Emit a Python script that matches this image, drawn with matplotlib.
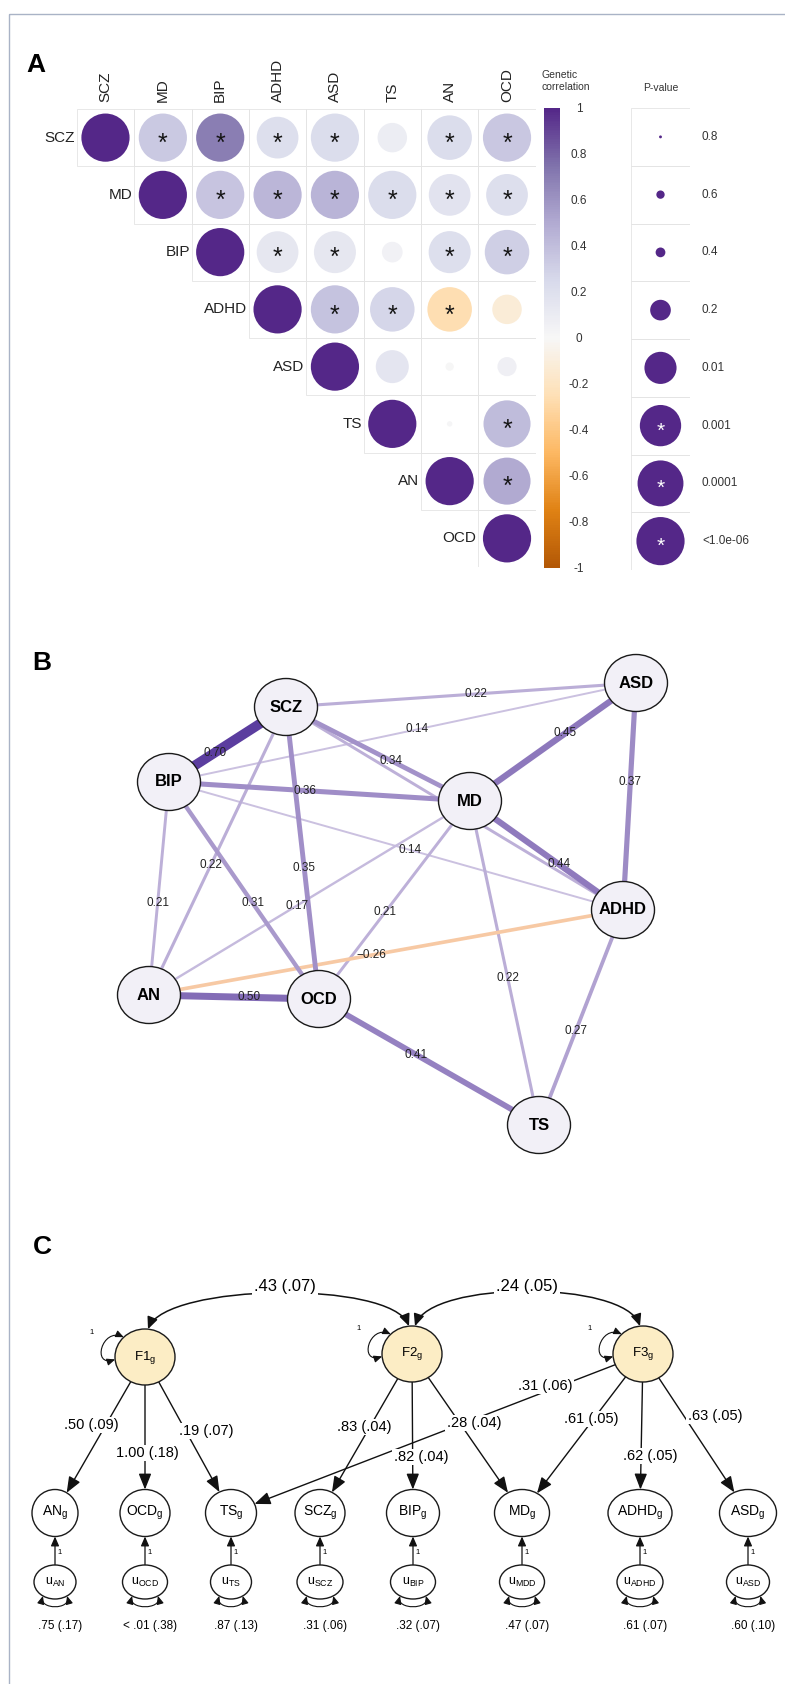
import numpy as np
import matplotlib
matplotlib.use("Agg")
import matplotlib.pyplot as plt
from matplotlib.patches import Ellipse, Rectangle, FancyArrowPatch, ArrowStyle
from matplotlib.path import Path
from matplotlib.colors import LinearSegmentedColormap, Normalize, to_rgb
from matplotlib.colorbar import ColorbarBase

plt.rcParams["font.family"] = ["Liberation Sans", "DejaVu Sans"]
plt.rcParams["mathtext.fontset"] = "custom"
plt.rcParams["mathtext.rm"] = "Liberation Sans"
plt.rcParams["mathtext.it"] = "Liberation Sans:italic"
plt.rcParams["mathtext.bf"] = "Liberation Sans:bold"

# ---------------------------------------------------------------- data
traits = ["SCZ", "MD", "BIP", "ADHD", "ASD", "TS", "AN", "OCD"]

# genetic correlations, upper triangle (each row starts at the diagonal)
rg_SCZ = [1.00, 0.34, 0.70, 0.21, 0.22, 0.09, 0.22, 0.35]
rg_MD = [1.00, 0.36, 0.44, 0.45, 0.22, 0.17, 0.21]
rg_BIP = [1.00, 0.14, 0.14, 0.05, 0.21, 0.31]
rg_ADHD = [1.00, 0.37, 0.27, -0.26, -0.12]
rg_ASD = [1.00, 0.15, 0.01, 0.07]
rg_TS = [1.00, 0.02, 0.41]
rg_AN = [1.00, 0.50]
rg_OCD = [1.00]

# p-values for the same cells
p_SCZ = [0.0, 1e-8, 1e-8, 8e-4, 1e-7, 0.02, 2e-4, 1e-8]
p_MD = [0.0, 1e-8, 1e-8, 1e-8, 1e-7, 8e-4, 8e-4]
p_BIP = [0.0, 8e-4, 7e-4, 0.2, 7e-4, 2e-4]
p_ADHD = [0.0, 1e-7, 2e-4, 2e-4, 0.02]
p_ASD = [0.0, 0.008, 0.6, 0.22]
p_TS = [0.0, 0.7, 1e-5]
p_AN = [0.0, 1e-5]
p_OCD = [0.0]

p_legend = [0.8, 0.6, 0.4, 0.2, 0.01, 0.001, 0.0001, 1e-6]
p_legend_labels = ["0.8", "0.6", "0.4", "0.2", "0.01", "0.001", "0.0001", "<1.0e-06"]
cbar_ticks = [1.0, 0.8, 0.6, 0.4, 0.2, 0.0, -0.2, -0.4, -0.6, -0.8, -1.0]
SIG_LEVEL = 0.001

# genomic SEM (panel C)
factors = ["F1", "F2", "F3"]
indicators = ["AN", "OCD", "TS", "SCZ", "BIP", "MD", "ADHD", "ASD"]
residual_names = ["AN", "OCD", "TS", "SCZ", "BIP", "MDD", "ADHD", "ASD"]
load_from = ["F1", "F1", "F1", "F2", "F2", "F2", "F3", "F3", "F3", "F3"]
load_to = ["AN", "OCD", "TS", "SCZ", "BIP", "MD", "MD", "ADHD", "ASD", "TS"]
load_est = [0.50, 1.00, 0.19, 0.83, 0.82, 0.28, 0.61, 0.62, 0.63, 0.31]
load_se = [0.09, 0.18, 0.07, 0.04, 0.04, 0.04, 0.05, 0.05, 0.05, 0.06]
cov_pairs = [("F1", "F2"), ("F2", "F3")]
cov_est = [0.43, 0.24]
cov_se = [0.07, 0.05]
resid_est = [0.75, 0.004, 0.87, 0.31, 0.32, 0.47, 0.61, 0.60]
resid_se = [0.17, 0.38, 0.13, 0.06, 0.07, 0.07, 0.07, 0.10]

# ---------------------------------------------------------------- layout (pixels)
W, H = 785, 1684
GRID = (76.8, 109.0, 535.7, 567.0)      # left, top, right, bottom
CBAR = (543.8, 108.0, 560.3, 568.0)
PLEG = (631.0, 108.0, 690.0, 570.0)
size_frac = [0.05, 0.145, 0.17, 0.36, 0.56, 0.72, 0.80, 0.84]

net_pos = {"SCZ": (286, 707), "MD": (470, 801), "BIP": (169, 782),
           "ADHD": (623, 910), "ASD": (636, 683), "TS": (539, 1125),
           "AN": (149, 995), "OCD": (319, 999)}
NODE_W, NODE_H = 63, 57
LABEL_SHIFT = 15          # edge labels sit this far past the midpoint

fac_pos = {"F1": (145, 1357), "F2": (412, 1354), "F3": (643, 1354)}
FAC_W, FAC_H = 60, 56
ind_x = [55, 145, 231, 320, 413, 522, 640, 748]
IND_Y, IND_H = 1513, 47
ind_w = [46, 50, 51, 50, 53, 55, 64, 57]
U_Y, U_H = 1582, 34
u_w = [42, 45, 41, 46, 45, 45, 46, 43]
load_label_xy = [(91, 1425), (147, 1453), (206, 1431), (364, 1427), (421, 1457),
                 (474, 1423), (591, 1419), (650, 1456), (715, 1416), (545, 1386)]
cov_label_xy = [(285, 1286), (527, 1286)]
RESID_Y = 1626

# ---------------------------------------------------------------- helpers
fig = plt.figure(figsize=(W / 100, H / 100), dpi=100, facecolor="white")
ax = fig.add_axes([0, 0, 1, 1])
ax.set_xlim(0, W)
ax.set_ylim(H, 0)
ax.axis("off")


def px_axes(l, t, r, b):
    return fig.add_axes([l / W, 1 - b / H, (r - l) / W, (b - t) / H])


cmap = LinearSegmentedColormap.from_list(
    "PuOr9", ["#B35806", "#E08214", "#FDB863", "#FEE0B6", "#F7F7F7",
              "#D8DAEB", "#B2ABD2", "#8073AC", "#542788"])
norm = Normalize(-1, 1)


def diam_frac(p):
    lp = -np.log10(max(p, 1e-12))
    return np.interp(lp, -np.log10(p_legend), size_frac)


def fmt(v):
    if v < 0.005:
        return "< .01"
    s = f"{v:.2f}"
    return s[1:] if s.startswith("0") else s


def star(axis, x, y, color, size=18):
    axis.annotate("*", (x, y), xytext=(0, -0.52 * size), textcoords="offset points",
                  ha="center", va="baseline", fontsize=size, color=color,
                  annotation_clip=False)


# outer frame
ax.add_patch(Rectangle((9, 14), W, H, fill=False, ec="#A9B3C6", lw=1.0))

# ---------------------------------------------------------------- panel A
n = len(traits)
R = np.full((n, n), np.nan)
P = np.full((n, n), np.nan)
for i, (rr, pp) in enumerate(zip([rg_SCZ, rg_MD, rg_BIP, rg_ADHD, rg_ASD, rg_TS, rg_AN, rg_OCD],
                                 [p_SCZ, p_MD, p_BIP, p_ADHD, p_ASD, p_TS, p_AN, p_OCD])):
    R[i, i:] = rr
    P[i, i:] = pp

axA = px_axes(*GRID)
axA.set_xlim(-0.5, n - 0.5)
axA.set_ylim(n - 0.5, -0.5)
axA.axis("off")
ux = (GRID[2] - GRID[0]) / n
uy = (GRID[3] - GRID[1]) / n
for i in range(n):
    for j in range(i, n):
        axA.add_patch(Rectangle((j - 0.5, i - 0.5), 1, 1, fill=False, ec="#E4E4E4", lw=0.6))
        d = diam_frac(P[i, j]) * ux
        axA.add_patch(Ellipse((j, i), d / ux, d / uy, fc=cmap(norm(R[i, j])), ec="none"))
        if i != j and P[i, j] <= SIG_LEVEL:
            star(axA, j, i, "#151515")
for i, t in enumerate(traits):
    axA.text(i - 0.53, i, t, ha="right", va="center", fontsize=11, color="#222222")
    axA.text(i, -0.62, t, ha="center", va="bottom", rotation=90, fontsize=11, color="#222222")

cax = px_axes(*CBAR)
cb = ColorbarBase(cax, cmap=cmap, norm=norm, orientation="vertical", ticks=cbar_ticks)
cb.outline.set_visible(False)
cb.set_ticklabels([("%g" % round(v, 1)) for v in cbar_ticks])
cax.tick_params(length=0, pad=13.5, labelsize=8.5, colors="#333333")
for lab in cax.get_yticklabels():
    lab.set_ha("center")

axP = px_axes(*PLEG)
axP.set_xlim(-0.5, 0.5)
axP.set_ylim(len(p_legend) - 0.5, -0.5)
axP.axis("off")
pux = PLEG[2] - PLEG[0]
puy = (PLEG[3] - PLEG[1]) / len(p_legend)
for k, (p, lab) in enumerate(zip(p_legend, p_legend_labels)):
    axP.add_patch(Rectangle((-0.5, k - 0.5), 1, 1, fill=False, ec="#E4E4E4", lw=0.6))
    d = diam_frac(p) * ux
    axP.add_patch(Ellipse((0, k), d / pux, d / puy, fc=cmap(norm(1.0)), ec="none"))
    if p <= SIG_LEVEL:
        star(axP, 0, k, "white", size=15)
    axP.text(0.5 + 12 / pux, k, lab, ha="left", va="center", fontsize=8.5, color="#333333")

ax.text(542, 81, "Genetic\ncorrelation", ha="left", va="center", fontsize=7.5,
        color="#333333", linespacing=1.2)
ax.text((PLEG[0] + PLEG[2]) / 2, 88, "P-value", ha="center", va="center", fontsize=7.5,
        color="#333333")
ax.text(36, 65, "A", ha="center", va="center", fontsize=19, fontweight="bold")

# ---------------------------------------------------------------- panel B
ax.text(42, 663, "B", ha="center", va="center", fontsize=19, fontweight="bold")
purple = np.array(to_rgb("#5B3D9F"))
orange = np.array(to_rgb("#EE8A3C"))
edges = [(i, j) for i in range(n) for j in range(i + 1, n) if P[i, j] <= SIG_LEVEL]
edges.sort(key=lambda e: abs(R[e]))
for i, j in edges:
    r = R[i, j]
    f = min(1.0, 0.15 + 0.85 * abs(r) / 0.70)
    base = purple if r > 0 else orange
    col = 1 - f * (1 - base)
    (x1, y1), (x2, y2) = net_pos[traits[i]], net_pos[traits[j]]
    ax.plot([x1, x2], [y1, y2], color=col, lw=14 * abs(r) * 0.72,
            solid_capstyle="butt", zorder=2)
    L = np.hypot(x2 - x1, y2 - y1)
    t = 0.5 + LABEL_SHIFT / L
    ax.text(x1 + t * (x2 - x1), y1 + t * (y2 - y1), f"{r:.2f}".replace("-", "\u2212"),
            ha="center", va="center", fontsize=8.5, color="#222222", zorder=3)
for t in traits:
    x, y = net_pos[t]
    ax.add_patch(Ellipse((x, y), NODE_W, NODE_H, fc="#F2F0F7", ec="#1A1A1A", lw=1.0, zorder=4))
    ax.text(x, y, t, ha="center", va="center", fontsize=12, fontweight="bold", zorder=5)

# ---------------------------------------------------------------- panel C
ax.text(42, 1247, "C", ha="center", va="center", fontsize=19, fontweight="bold")


def ell_edge(c, a, b, toward):
    dx, dy = toward[0] - c[0], toward[1] - c[1]
    t = 1.0 / np.sqrt((dx / a) ** 2 + (dy / b) ** 2)
    return (c[0] + t * dx, c[1] + t * dy)


def top_point(c, a, b, dx):
    return (c[0] + dx, c[1] - b * np.sqrt(1 - (dx / a) ** 2))


ind_pos = {name: (x, IND_Y) for name, x in zip(indicators, ind_x)}
ind_size = {name: w for name, w in zip(indicators, ind_w)}

# factor covariances
for (a, b), est, se, (lx, ly) in zip(cov_pairs, cov_est, cov_se, cov_label_xy):
    p0 = top_point(fac_pos[a], FAC_W / 2, FAC_H / 2, 3)
    p3 = top_point(fac_pos[b], FAC_W / 2, FAC_H / 2, -3)
    L = p3[0] - p0[0]
    lift = 46
    p1 = (p0[0] + 0.07 * L, p0[1] - lift)
    p2 = (p3[0] - 0.07 * L, p3[1] - lift)
    path = Path([p0, p1, p2, p3], [Path.MOVETO, Path.CURVE4, Path.CURVE4, Path.CURVE4])
    ax.add_patch(FancyArrowPatch(path=path, arrowstyle=ArrowStyle("<|-|>", head_length=0.9, head_width=0.4),
                                 mutation_scale=8, lw=1.1, color="#111111", zorder=3))
    ax.text(lx, ly, f"{fmt(est)} ({fmt(se)})", ha="center", va="center", fontsize=12,
            zorder=4, bbox=dict(fc="white", ec="none", pad=1.5))

# loadings
for fr, to, est, se, (lx, ly) in zip(load_from, load_to, load_est, load_se, load_label_xy):
    fc = fac_pos[fr]
    ic = ind_pos[to]
    start = ell_edge(fc, FAC_W / 2, FAC_H / 2, ic)
    end = ell_edge(ic, ind_size[to] / 2, IND_H / 2, fc)
    ax.add_patch(FancyArrowPatch(start, end, arrowstyle=ArrowStyle("-|>", head_length=0.8, head_width=0.32),
                                 mutation_scale=12, lw=1.0, color="#111111",
                                 shrinkA=0, shrinkB=0, zorder=3))
    ax.text(lx, ly, f"{fmt(est)} ({fmt(se)})", ha="center", va="center", fontsize=10.5,
            zorder=4, bbox=dict(fc="white", ec="none", pad=1.0))

# factor nodes with unit variance loops
for fname in factors:
    cx, cy = fac_pos[fname]
    a, b = FAC_W / 2, FAC_H / 2
    q0 = (cx + a * np.cos(np.radians(135)), cy - b * np.sin(np.radians(135)))
    q3 = (cx + a * np.cos(np.radians(185)), cy - b * np.sin(np.radians(185)))
    q1 = (q0[0] - 22, q0[1] - 10)
    q2 = (q3[0] - 24, q3[1] + 8)
    loop = Path([q0, q1, q2, q3], [Path.MOVETO, Path.CURVE4, Path.CURVE4, Path.CURVE4])
    ax.add_patch(FancyArrowPatch(path=loop, arrowstyle=ArrowStyle("<|-|>", head_length=0.8, head_width=0.35),
                                 mutation_scale=6, lw=0.8, color="#111111", zorder=3))
    ax.text(cx - 53, cy - 25, "1", ha="center", va="center", fontsize=5.5)
    ax.add_patch(Ellipse((cx, cy), FAC_W, FAC_H, fc="#FCEDC5", ec="#1A1A1A", lw=1.0, zorder=5))
    ax.text(cx, cy, r"$\mathregular{%s_g}$" % fname, ha="center", va="center", fontsize=9.5, zorder=6)

# indicators, residuals
for name, rname, x, w, uw, rv, rs in zip(indicators, residual_names, ind_x, ind_w, u_w,
                                         resid_est, resid_se):
    ax.add_patch(Ellipse((x, IND_Y), w, IND_H, fc="white", ec="#1A1A1A", lw=1.0, zorder=5))
    ax.text(x, IND_Y, r"$\mathregular{%s_g}$" % name, ha="center", va="center", fontsize=10, zorder=6)
    ax.add_patch(Ellipse((x, U_Y), uw, U_H, fc="white", ec="#1A1A1A", lw=1.0, zorder=5))
    ax.text(x, U_Y, r"$\mathregular{u_{%s}}$" % rname, ha="center", va="center", fontsize=9, zorder=6)
    ax.add_patch(FancyArrowPatch((x, U_Y - U_H / 2), (x, IND_Y + IND_H / 2),
                                 arrowstyle=ArrowStyle("-|>", head_length=0.8, head_width=0.35),
                                 mutation_scale=7, lw=0.9, color="#111111",
                                 shrinkA=0, shrinkB=0, zorder=3))
    ax.text(x + 5, (U_Y - U_H / 2 + IND_Y + IND_H / 2) / 2 + 2, "1", ha="center", va="center", fontsize=5.5)
    a, b = uw / 2, U_H / 2
    q0 = (x + a * np.cos(np.radians(235)), U_Y - b * np.sin(np.radians(235)))
    q3 = (x + a * np.cos(np.radians(305)), U_Y - b * np.sin(np.radians(305)))
    q1 = (q0[0] - 4, q0[1] + 14)
    q2 = (q3[0] + 4, q3[1] + 14)
    loop = Path([q0, q1, q2, q3], [Path.MOVETO, Path.CURVE4, Path.CURVE4, Path.CURVE4])
    ax.add_patch(FancyArrowPatch(path=loop, arrowstyle=ArrowStyle("<|-|>", head_length=0.8, head_width=0.35),
                                 mutation_scale=6, lw=0.8, color="#111111", zorder=3))
    ax.text(x + 5, RESID_Y, f"{fmt(rv)} ({fmt(rs)})", ha="center", va="center", fontsize=8.5)

fig.savefig("out.png", dpi=100, facecolor="white")
